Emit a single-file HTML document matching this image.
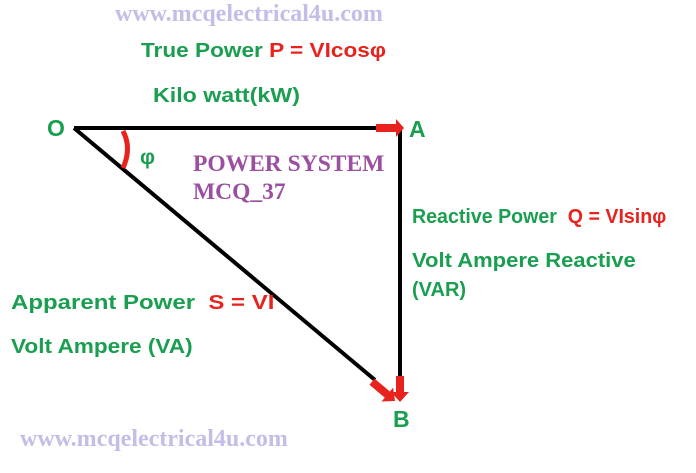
<!DOCTYPE html>
<html><head><style>
body{margin:0;width:696px;height:473px;background:#fff;overflow:hidden;position:relative;font-family:"Liberation Sans",sans-serif}
.t{position:absolute;white-space:nowrap;font-weight:bold;transform-origin:0 50%}
.g{color:#1a9e50;font-size:20px}
.r{color:#e8231e}
.w{font-family:"Liberation Serif",serif;color:#c4bde8;font-size:24px}
</style></head><body>
<svg width="696" height="473" style="position:absolute;left:0;top:0">
<line x1="74" y1="128" x2="385" y2="128" stroke="#000" stroke-width="4"/>
<line x1="400" y1="128" x2="400" y2="385" stroke="#000" stroke-width="4"/>
<line x1="74" y1="128" x2="375" y2="380" stroke="#000" stroke-width="4"/>
<path d="M376 124 L396 124 L396 119 L404 128 L396 137 L396 132 L376 132 Z" fill="#e8231e"/>
<path d="M396 376 L404 376 L404 392 L409 392 L400 402 L391 392 L396 392 Z" fill="#e8231e"/>
<g transform="translate(395,401) rotate(40)"><path d="M-30 -4 L-10 -4 L-10 -9 L0 0 L-10 9 L-10 4 L-30 4 Z" fill="#e8231e"/></g>
<path d="M123 131 Q132 148 123 168" stroke="#e8231e" stroke-width="5" fill="none"/>
</svg>
<div class="t w" style="left:115px;top:1px">www.mcqelectrical4u.com</div>
<div class="t w" style="left:20px;top:426px">www.mcqelectrical4u.com</div>
<div class="t g" style="left:141px;top:40px;transform:scaleX(1.13)">True Power <span class="r">P = VIcosφ</span></div>
<div class="t g" style="left:153px;top:85px;transform:scaleX(1.16)">Kilo watt(kW)</div>
<div class="t g" style="left:47px;top:115px;font-size:23px">O</div>
<div class="t g" style="left:409px;top:116px;font-size:23px">A</div>
<div class="t g" style="left:393px;top:406px;font-size:23px">B</div>
<div class="t g" style="left:140px;top:146px;font-size:21px">φ</div>
<div class="t" style="left:193px;top:150px;font-family:'Liberation Serif',serif;color:#9b4fa0;font-size:23.5px;line-height:28px">POWER SYSTEM<br>MCQ_37</div>
<div class="t g" style="left:412px;top:206px;transform:scaleX(0.98)">Reactive Power &nbsp;<span class="r">Q = VIsinφ</span></div>
<div class="t g" style="left:412px;top:250px;transform:scaleX(1.1)">Volt Ampere Reactive</div>
<div class="t g" style="left:412px;top:279px">(VAR)</div>
<div class="t g" style="left:11px;top:292px;transform:scaleX(1.2)">Apparent Power &nbsp;<span class="r">S = VI</span></div>
<div class="t g" style="left:11px;top:336px;transform:scaleX(1.13)">Volt Ampere (VA)</div>
</body></html>
